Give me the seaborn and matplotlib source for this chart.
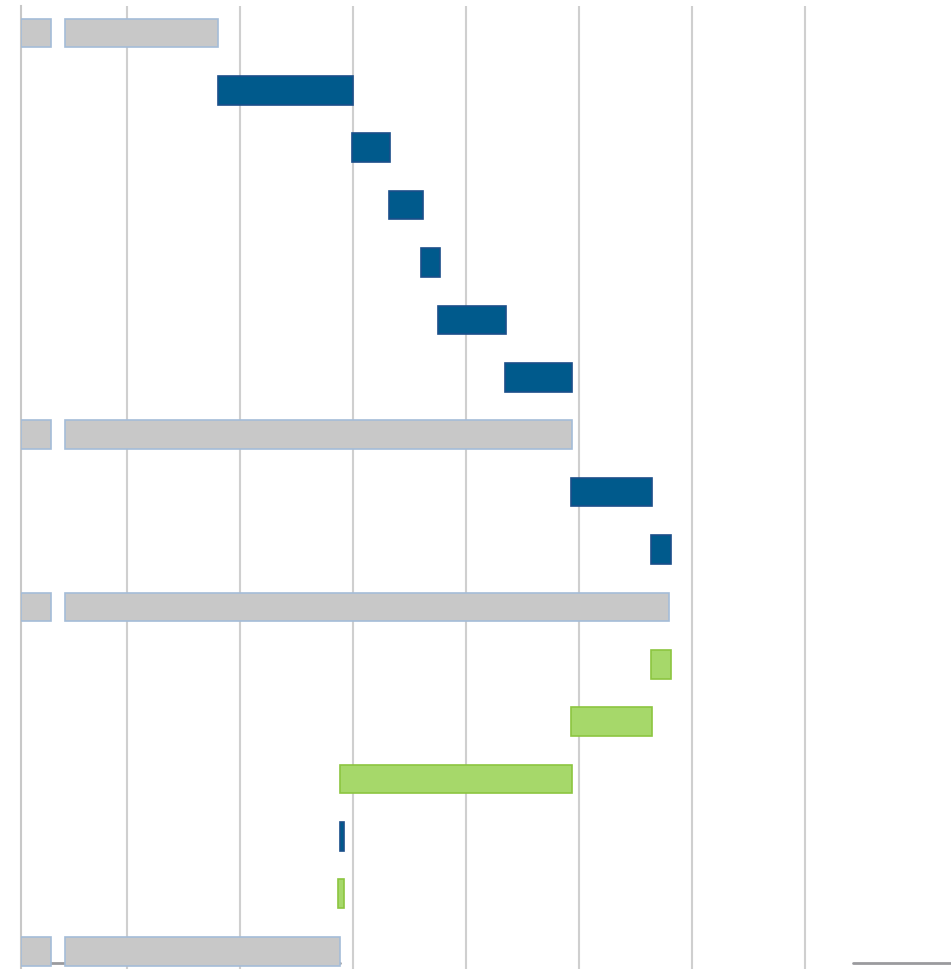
import matplotlib
matplotlib.use('Agg')
import matplotlib.pyplot as plt
import seaborn as sns
import pandas as pd

# Waterfall rows, top to bottom (no labels are visible in the chart)
rows = [f'r{i}' for i in range(17)]
kinds = ['total', 'up', 'up', 'up', 'up', 'up', 'up', 'total', 'up', 'up',
         'total', 'down', 'down', 'down', 'up', 'down', 'total']
starts = [9.0, 36.1, 59.8, 66.4, 72.0, 75.0, 86.9, 9.0, 98.6, 112.7,
          9.0, 112.7, 98.6, 57.7, 57.7, 57.3, 9.0]
ends = [36.1, 60.0, 66.5, 72.4, 75.4, 87.1, 98.8, 98.8, 112.9, 116.3,
        115.9, 116.3, 112.9, 98.8, 58.4, 58.4, 57.7]

# small grey marker next to each total
tag_start = 1.24
tag_end = 6.55

grid_values = [20, 40, 60, 80, 100, 120, 140]

df = pd.DataFrame({'row': rows, 'kind': kinds, 'start': starts, 'end': ends})
df['width'] = df['end'] - df['start']

styles = {
    'total': dict(color='#c8c8c8', edgecolor='#a4bcd8'),
    'up': dict(color='#005a8c', edgecolor='#1b4f8a'),
    'down': dict(color='#a6d86a', edgecolor='#8cc540'),
}

sns.set_style('white')
fig = plt.figure(figsize=(9.51, 9.69), dpi=100)
ax = fig.add_axes([21 / 951, 0, 930 / 951, 963 / 969])

for kind, sub in df.groupby('kind', sort=False):
    sns.barplot(data=sub, x='width', y='row', order=rows, orient='h',
                left=sub['start'].values, width=0.5, saturation=1,
                errorbar=None, linewidth=1.2, ax=ax, zorder=3, **styles[kind])

tags = df[df['kind'] == 'total'].copy()
tags['width'] = tag_end - tag_start
sns.barplot(data=tags, x='width', y='row', order=rows, orient='h',
            left=tag_start, width=0.5, saturation=1, errorbar=None,
            linewidth=1.2, ax=ax, zorder=3, **styles['total'])

ax.set_xlim(1.24, 165.84)
ax.set_ylim(16.31, -0.47)
ax.set_xticks(grid_values)
ax.grid(axis='x', color='#cfcfcf', linewidth=1.5)
ax.grid(axis='y', visible=False)
ax.set_axisbelow(True)
ax.tick_params(left=False, bottom=False, labelleft=False, labelbottom=False)
ax.set_xlabel('')
ax.set_ylabel('')
for side in ['top', 'right', 'bottom']:
    ax.spines[side].set_visible(False)
ax.spines['left'].set_color('#c8c8c8')
ax.spines['left'].set_linewidth(1.5)

# faint baseline pieces at the bottom
ax.axhline(16.21, xmin=0.0, xmax=(340 - 21) / 930, color='#9a9a9e', lw=2, zorder=1)
ax.axhline(16.21, xmin=(853 - 21) / 930, xmax=1.0, color='#9a9a9e', lw=2, zorder=1)

fig.savefig('out.png', dpi=100)
